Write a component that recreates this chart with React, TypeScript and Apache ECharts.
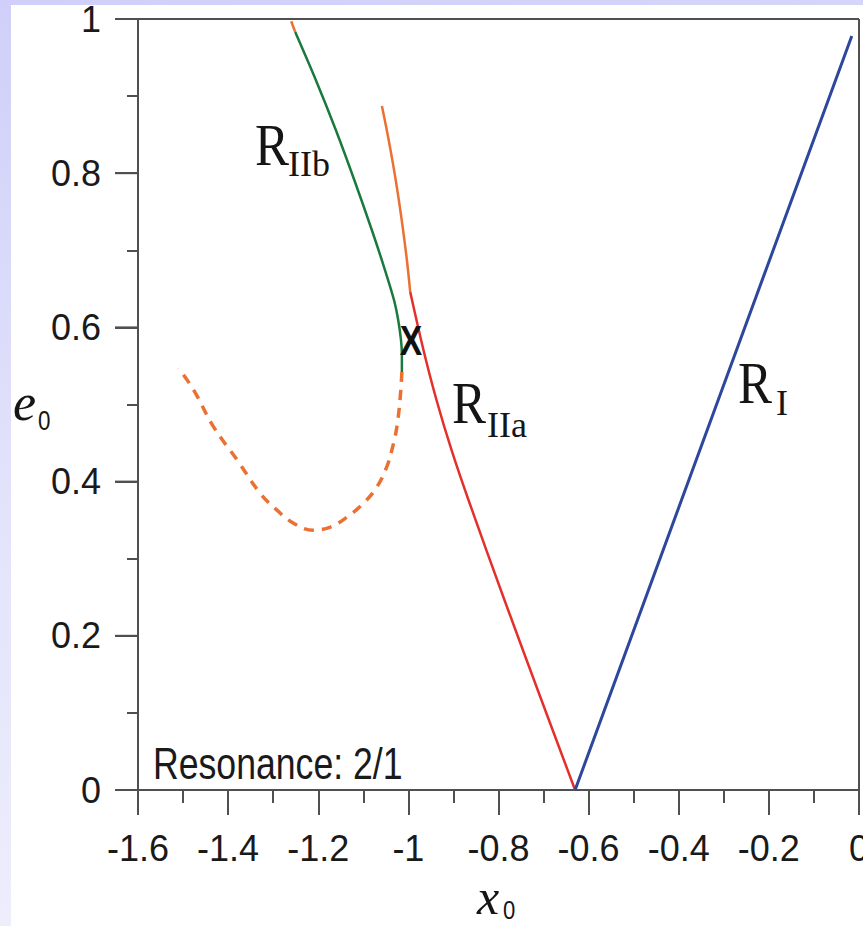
import React, { useEffect, useRef } from "react";
import * as echarts from "echarts";

// R_I branch (stable, blue)
const rIX = [-0.63, -0.323, -0.016];
const rIY = [0.0, 0.489, 0.978];

// R_IIa branch (stable, red)
const rIIaX = [-0.63, -0.7047, -0.7868, -0.8666, -0.9043, -0.9376, -0.9665, -0.9959];
const rIIaY = [0.0, 0.1167, 0.2464, 0.3761, 0.441, 0.5058, 0.5707, 0.6459];

// continuation of R_IIa above the crossing (orange)
const rIIaUpX = [-0.9959, -1.0033, -1.0148, -1.0281, -1.0437, -1.0587];
const rIIaUpY = [0.6459, 0.6874, 0.7393, 0.7912, 0.8431, 0.8872];

// R_IIb branch (stable, green)
const rIIbX = [-1.2511, -1.2054, -1.161, -1.12, -1.0811, -1.0519, -1.0319, -1.0226, -1.0164, -1.0144, -1.0144];
const rIIbY = [0.9831, 0.9209, 0.856, 0.7912, 0.7263, 0.6744, 0.6355, 0.6096, 0.5837, 0.5642, 0.5422];

// short orange tip above R_IIb
const rIIbTopX = [-1.26, -1.2511];
const rIIbTopY = [0.997, 0.9831];

// dashed orange (unstable) branch
const dashX = [-1.0144, -1.018, -1.0255, -1.0366, -1.048, -1.07, -1.0995, -1.136, -1.173, -1.2105, -1.255, -1.2917, -1.329, -1.38, -1.4323, -1.4767, -1.51];
const dashY = [0.5422, 0.51, 0.471, 0.441, 0.419, 0.393, 0.372, 0.354, 0.341, 0.337, 0.346, 0.363, 0.385, 0.428, 0.471, 0.519, 0.547];

// y-axis major tick values
const yMajor = [0, 0.2, 0.4, 0.6, 0.8, 1];

const pairs = (xs: number[], ys: number[]) => xs.map((x, i) => [x, ys[i]]);

const SANS = "'Liberation Sans', Arial, sans-serif";
const SERIF = "'Liberation Serif', 'Times New Roman', serif";

const BLUE = "#2c479b";
const RED = "#e3302b";
const GREEN = "#1a7a3e";
const ORANGE = "#ec7032";
const AXIS = "#505050";

export default function App() {
  const ref = useRef<HTMLDivElement>(null);
  useEffect(() => {
    const chart = echarts.init(ref.current!, null, { renderer: "svg" });
    const txt = (text: string, x: number, y: number, size: number, family: string, extra: any = {}, sx = 1) => ({
      type: "text",
      x,
      y,
      scaleX: sx,
      z: 100,
      style: {
        text,
        fontSize: size,
        fontFamily: family,
        fill: "#151515",
        align: "left",
        verticalAlign: "middle",
        ...extra,
      },
    });
    const texts = [
      txt("R", 255, 144.75, 60, SERIF, {}, 0.85),
      txt("IIb", 288, 163.85, 36, SERIF),
      txt("R", 452, 402.75, 60, SERIF, {}, 0.85),
      txt("IIa", 487, 424.85, 36, SERIF),
      txt("R", 738, 382.75, 60, SERIF, {}, 0.85),
      txt("I", 776, 402.85, 36, SERIF),
      txt("X", 411, 340.4, 42, SANS, { fontWeight: "bold", align: "center", fill: "#111" }, 0.8),
      txt("Resonance: 2/1", 153, 763.75, 44, SANS, { fill: "#1a1a1a" }, 0.81),
      txt("e", 13, 402.45, 52, SERIF, { fontStyle: "italic" }),
      txt("0", 38, 420.3, 28, SANS, {}, 0.8),
      txt("x", 477, 897, 50, SERIF, { fontStyle: "italic" }),
      txt("0", 503, 910, 26, SANS, {}, 0.85),
    ];
    chart.setOption({
      animation: false,
      backgroundColor: "transparent",
      grid: { left: 138, top: 19, width: 721, height: 771, outerBoundsMode: "none" },
      xAxis: {
        type: "value",
        min: -1.6,
        max: 0,
        interval: 0.2,
        position: "bottom",
        axisLine: { show: true, onZero: false, lineStyle: { color: AXIS, width: 2 } },
        axisTick: { show: true, length: 25, lineStyle: { color: AXIS, width: 2 } },
        minorTick: { show: true, splitNumber: 2, length: 13, lineStyle: { color: AXIS, width: 2 } },
        splitLine: { show: false },
        axisLabel: { margin: 40, fontSize: 36, color: "#1a1a1a", fontFamily: SANS },
      },
      yAxis: {
        type: "value",
        min: 0,
        max: 1,
        interval: 0.2,
        position: "left",
        axisLine: { show: true, onZero: false, lineStyle: { color: AXIS, width: 2 } },
        axisTick: { show: true, length: 23, lineStyle: { color: AXIS, width: 2 } },
        minorTick: { show: true, splitNumber: 2, length: 11, lineStyle: { color: AXIS, width: 2 } },
        splitLine: { show: false },
        axisLabel: { margin: 37, fontSize: 36, color: "#1a1a1a", fontFamily: SANS },
      },
      series: [
        {
          type: "line",
          name: "unstable",
          data: pairs(dashX, dashY),
          showSymbol: false,
          smooth: 0.4,
          lineStyle: { color: ORANGE, width: 3.5, type: [10, 8], cap: "butt" },
          z: 2,
        },
        {
          type: "line",
          name: "R_IIa upper",
          data: pairs(rIIaUpX, rIIaUpY),
          showSymbol: false,
          smooth: 0.3,
          lineStyle: { color: ORANGE, width: 2.5 },
          z: 2,
        },
        {
          type: "line",
          name: "R_IIb tip",
          data: pairs(rIIbTopX, rIIbTopY),
          showSymbol: false,
          lineStyle: { color: ORANGE, width: 2.5 },
          z: 2,
        },
        {
          type: "line",
          name: "R_IIb",
          data: pairs(rIIbX, rIIbY),
          showSymbol: false,
          smooth: 0.3,
          lineStyle: { color: GREEN, width: 2.5 },
          z: 3,
        },
        {
          type: "line",
          name: "R_IIa",
          data: pairs(rIIaX, rIIaY),
          showSymbol: false,
          smooth: 0.3,
          lineStyle: { color: RED, width: 2.5 },
          z: 3,
        },
        {
          type: "line",
          name: "R_I",
          data: pairs(rIX, rIY),
          showSymbol: false,
          lineStyle: { color: BLUE, width: 3 },
          z: 3,
        },
      ],
      graphic: texts,
    });

    // frame (top/right) and y major ticks, placed through the axes' own scales
    const px = (x: number, y: number) => chart.convertToPixel({ xAxisIndex: 0, yAxisIndex: 0 }, [x, y]) as number[];
    const [x0, yTop] = px(-1.6, 1);
    const [x1, yBot] = px(0, 0);
    const seg = (a: number, b: number, c: number, d: number) => ({
      type: "line",
      z: 50,
      silent: true,
      shape: { x1: a, y1: b, x2: c, y2: d },
      style: { stroke: AXIS, lineWidth: 2 },
    });
    const lines = [
      seg(x0, yTop, x1, yTop),
      seg(x1, yTop, x1, yBot),
      ...yMajor.map((v) => {
        const [, yy] = px(-1.6, v);
        return seg(x0 - 23, yy, x0, yy);
      }),
    ];
    chart.setOption({ graphic: [...texts, ...lines] });
    return () => chart.dispose();
  }, []);
  return (
    <div
      style={{
        position: "fixed",
        left: 0,
        top: 0,
        width: 863,
        height: 926,
        overflow: "hidden",
        background: "linear-gradient(170deg, #cfcff9 0%, #e2e2fb 45%, #f1f1fd 100%)",
      }}
    >
      <div style={{ position: "absolute", left: 11, top: 5, right: 0, bottom: 0, background: "#ffffff" }} />
      <div ref={ref} style={{ position: "absolute", left: 0, top: 0, width: 863, height: 926 }} />
    </div>
  );
}
